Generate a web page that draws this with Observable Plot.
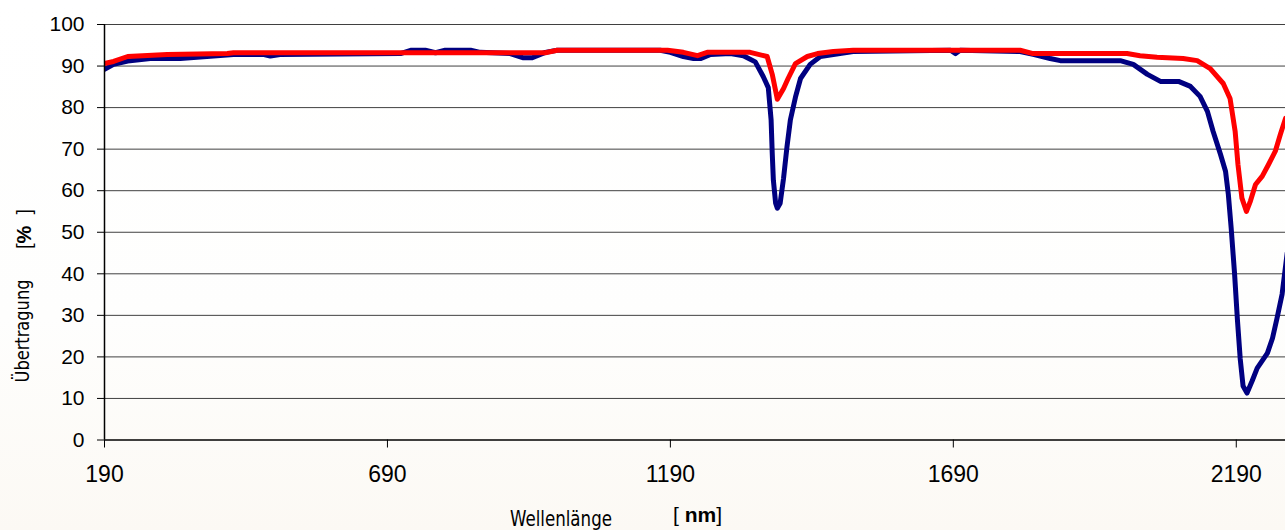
<!DOCTYPE html>
<html><head><meta charset="utf-8">
<script src="https://cdn.jsdelivr.net/npm/d3@7"></script>
<script src="https://cdn.jsdelivr.net/npm/@observablehq/plot@0.6"></script>
<style>
html,body{margin:0;padding:0;}
body{width:1285px;height:530px;overflow:hidden;background:linear-gradient(to bottom,#ffffff 0%,#fefefd 60%,#fcf9f4 100%);}
#chart svg{display:block;}
</style></head><body><div id="chart"></div>
<script>
// Wavelength (nm) and transmission (%) of the two fibres
const blueNm = [190,206,231,271,324,418,470,483,500,713,731,757,775,792,837,854,907,929,946,969,990,1172,1190,1213,1231,1243,1261,1296,1319,1340,1354,1363,1368,1370,1372,1376,1379,1384,1390,1396,1402,1411,1420,1437,1455,1478,1513,1685,1694,1702,1808,1831,1861,1879,1985,2008,2033,2056,2088,2109,2126,2139,2149,2162,2171,2176,2181,2187,2192,2197,2202,2209,2218,2227,2245,2254,2262,2271,2280];
const blueT  = [89.2,90.4,91.2,91.8,91.8,92.8,92.8,92.4,92.8,93.0,93.8,93.8,93.2,93.8,93.8,93.3,93.0,92.0,92.0,93.3,93.8,93.8,93.3,92.3,91.8,91.8,92.8,93.0,92.5,91.0,87.5,84.8,77,69,62.5,57,55.8,57,63,70.5,77,82.5,87,90.4,92.3,92.8,93.5,93.8,93.0,93.8,93.5,92.8,91.8,91.3,91.3,90.4,88,86.3,86.3,85.1,82.7,79.1,74.3,68.8,64.7,59.1,51,40,29,19.5,13,11.3,14.2,17.3,20.9,24.5,29.3,35.1,45];
const redNm  = [190,206,231,301,407,418,969,990,1185,1213,1238,1255,1331,1361,1370,1379,1390,1398,1411,1432,1450,1478,1513,1808,1831,1997,2020,2050,2096,2121,2144,2167,2179,2188,2193,2200,2208,2215,2224,2236,2247,2259,2268,2277];
const redT   = [90.6,91.1,92.3,92.8,93.0,93.2,93.2,93.8,93.8,93.3,92.5,93.3,93.3,92.3,88,82,84.6,87,90.6,92.3,93,93.5,93.8,93.8,93.0,93.0,92.5,92.1,91.8,91.3,89.4,85.8,82.2,74.3,66.3,58.2,55,57.5,61.5,63.5,66.3,69.5,73.6,77.4];
const xTicks = [190,690,1190,1690,2190];
const yTicks = [0,10,20,30,40,50,60,70,80,90,100];

const blue = blueNm.map((x,i)=>({x, y: blueT[i]}));
const red  = redNm.map((x,i)=>({x, y: redT[i]}));

const chart = Plot.plot({
  width: 1285, height: 530,
  marginLeft: 104, marginRight: 0, marginTop: 24, marginBottom: 90.5,
  style: {fontFamily: "'Liberation Sans', Arial, sans-serif", color: "#000", background: "transparent"},
  x: {domain: [190, 2277], label: null},
  y: {domain: [0, 100], label: null},
  marks: [
    Plot.ruleY(yTicks.filter(d => d > 0), {stroke: "#404040", strokeWidth: 1}),
    Plot.line(blue, {x: "x", y: "y", stroke: "#000080", strokeWidth: 5, strokeLinejoin: "round", strokeLinecap: "round", clip: true}),
    Plot.line(red, {x: "x", y: "y", stroke: "#ff0000", strokeWidth: 5, strokeLinejoin: "round", strokeLinecap: "round", clip: true}),
    Plot.ruleY([0], {stroke: "#000", strokeWidth: 1.5}),
    Plot.ruleX([190], {y1: 0, y2: 100, stroke: "#000", strokeWidth: 1.5}),
    Plot.axisX({ticks: xTicks, tickFormat: d => String(d), tickSize: 8, tickPadding: 18, fontSize: 23, label: null, stroke: "#000"}),
    Plot.axisY({ticks: yTicks, tickFormat: d => String(d), tickSize: 7, tickPadding: 13, fontSize: 21, label: null, stroke: "#000"})
  ]
});
document.getElementById("chart").appendChild(chart);

const svg = d3.select(chart);
// y-axis title
svg.append("text")
  .attr("transform", "translate(29,331) rotate(-90)")
  .attr("text-anchor", "middle")
  .attr("textLength", 103).attr("lengthAdjust", "spacingAndGlyphs")
  .style("font-family", "'Liberation Sans Narrow', 'DejaVu Sans Condensed', sans-serif")
  .style("font-size", "20px")
  .text("Übertragung");
const pct = svg.append("text")
  .attr("transform", "translate(31,229) rotate(-90)")
  .attr("text-anchor", "middle")
  .style("font-family", "'Liberation Sans', Arial, sans-serif")
  .style("font-size", "20px");
pct.append("tspan").text("[");
pct.append("tspan").style("font-weight", "bold").text("%");
pct.append("tspan").text("  ]");
// x-axis title
svg.append("text")
  .attr("x", 510).attr("y", 526)
  .attr("text-anchor", "start")
  .attr("textLength", 102).attr("lengthAdjust", "spacingAndGlyphs")
  .style("font-family", "'Liberation Sans Narrow', 'DejaVu Sans Condensed', sans-serif")
  .style("font-size", "21px")
  .text("Wellenlänge");
const nm = svg.append("text")
  .attr("x", 673).attr("y", 522)
  .attr("text-anchor", "start")
  .style("font-family", "'Liberation Sans', Arial, sans-serif")
  .style("font-size", "21px");
nm.append("tspan").text("[ ");
nm.append("tspan").style("font-weight", "bold").text("nm");
nm.append("tspan").text("]");
</script>
</body></html>
